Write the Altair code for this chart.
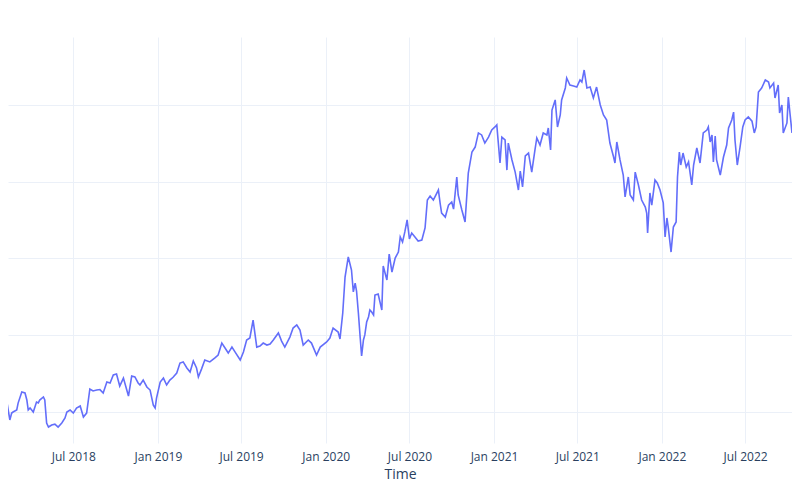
import altair as alt
import pandas as pd

# Days since 2018-01-01 of each sampled observation
days = [
    22, 28, 32, 37, 43, 47, 50, 58, 61, 69,
    76, 80, 83, 87, 94, 101, 105, 108, 116, 119,
    123, 127, 134, 141, 148, 156, 163, 167, 174, 181,
    188, 196, 203, 210, 217, 224, 232, 239, 246, 254,
    261, 268, 275, 282, 290, 301, 308, 315, 322, 326,
    333, 341, 348, 355, 359, 362, 370, 377, 384, 391,
    398, 406, 413, 420, 428, 435, 442, 449, 453, 460,
    467, 478, 489, 496, 504, 511, 518, 526, 533, 544,
    551, 558, 565, 572, 580, 587, 594, 602, 609, 616,
    627, 634, 641, 652, 659, 667, 674, 681, 692, 699,
    710, 718, 732, 739, 746, 757, 761, 767, 772, 779,
    786, 790, 794, 797, 801, 805, 808, 812, 815, 819,
    823, 826, 830, 834, 837, 844, 852, 855, 863, 868,
    874, 881, 888, 892, 897, 902, 907, 912, 917, 924,
    931, 939, 946, 951, 957, 964, 975, 979, 982, 990,
    997, 1004, 1008, 1015, 1018, 1026, 1033, 1040, 1048, 1055,
    1062, 1069, 1076, 1084, 1091, 1098, 1102, 1109, 1113, 1120,
    1124, 1127, 1135, 1142, 1149, 1153, 1158, 1164, 1171, 1178,
    1185, 1189, 1196, 1203, 1211, 1214, 1219, 1222, 1229, 1234,
    1240, 1243, 1251, 1254, 1261, 1269, 1276, 1283, 1287, 1292,
    1298, 1305, 1312, 1319, 1327, 1334, 1341, 1348, 1356, 1359,
    1363, 1370, 1377, 1381, 1388, 1392, 1399, 1403, 1410, 1417,
    1425, 1428, 1430, 1435, 1439, 1446, 1451, 1457, 1464, 1468,
    1472, 1475, 1481, 1486, 1492, 1495, 1499, 1502, 1507, 1514,
    1519, 1526, 1530, 1537, 1544, 1551, 1559, 1562, 1566, 1570,
    1573, 1577, 1580, 1588, 1595, 1602, 1606, 1613, 1617, 1620,
    1625, 1631, 1637, 1642, 1649, 1657, 1662, 1666, 1671, 1678,
    1686, 1693, 1696, 1704, 1707, 1714, 1717, 1722, 1725, 1733,
    1736, 1740, 1744, 1747, 1755, 1758, 1762,
]

# Series value at each observation
price = [
    62.4, 63.0, 61.1, 55.8, 44.8, 49.3, 50.0, 51.3, 55.8, 63.0,
    62.4, 57.8, 51.3, 52.6, 50.0, 56.5, 55.9, 57.8, 59.8, 57.8,
    42.8, 40.2, 41.5, 42.1, 40.2, 42.8, 46.1, 50.0, 51.3, 49.3,
    52.6, 53.9, 46.7, 49.3, 65.0, 63.7, 64.3, 64.6, 62.4, 69.5,
    68.9, 74.1, 74.7, 66.9, 72.1, 60.4, 73.4, 72.8, 68.9, 67.6,
    70.8, 66.3, 64.3, 54.5, 52.6, 59.1, 69.5, 72.1, 67.6, 70.8,
    72.6, 75.4, 81.9, 82.6, 78.7, 76.0, 83.2, 78.7, 72.8, 78.1,
    83.9, 82.6, 85.2, 87.1, 94.9, 91.7, 88.4, 92.3, 89.0, 83.9,
    89.1, 96.9, 98.2, 109.9, 92.3, 93.0, 94.9, 93.6, 94.3, 96.9,
    101.5, 96.2, 92.3, 98.8, 104.7, 106.7, 103.4, 93.6, 96.9, 94.9,
    87.1, 92.3, 95.6, 98.2, 104.7, 102.1, 97.6, 114.5, 137.9, 151.0,
    142.5, 128.2, 134.0, 128.8, 114.5, 98.2, 86.5, 96.9, 100.2, 108.6,
    111.9, 116.4, 115.1, 113.2, 126.2, 126.9, 116.4, 145.1, 136.0, 152.9,
    141.2, 150.3, 154.2, 164.0, 160.7, 167.3, 175.1, 162.7, 166.6, 164.0,
    161.4, 162.0, 169.9, 188.1, 190.7, 188.1, 194.6, 185.5, 179.6, 177.0,
    184.8, 186.8, 182.2, 203.1, 191.4, 181.6, 173.8, 205.7, 219.4, 222.6,
    231.8, 230.5, 225.2, 229.1, 233.7, 235.7, 237.0, 212.2, 229.1, 227.2,
    207.6, 225.2, 214.2, 206.3, 194.6, 207.0, 196.6, 216.8, 218.7, 206.3,
    220.7, 228.5, 223.9, 231.8, 230.5, 235.0, 220.7, 246.7, 253.3, 235.7,
    243.5, 253.3, 261.1, 267.6, 263.0, 262.4, 261.7, 266.3, 265.0, 272.8,
    261.1, 261.7, 254.6, 261.7, 250.0, 243.5, 240.2, 225.2, 216.1, 212.2,
    225.9, 214.2, 204.4, 190.1, 203.1, 191.4, 188.1, 206.3, 197.9, 188.1,
    183.5, 179.6, 166.6, 192.7, 184.8, 201.1, 199.2, 194.6, 186.2, 164.0,
    176.4, 169.9, 154.2, 170.5, 173.8, 203.1, 219.4, 210.9, 218.7, 209.6,
    212.9, 197.9, 210.9, 222.0, 212.2, 231.8, 233.7, 235.7, 225.9, 230.5,
    212.9, 229.8, 214.2, 204.4, 216.1, 223.9, 235.0, 240.2, 245.4, 227.2,
    210.9, 222.6, 235.7, 240.2, 242.2, 239.5, 231.8, 235.7, 258.5, 261.1,
    266.3, 265.0, 261.1, 264.3, 254.6, 263.0, 244.8, 250.0, 231.8, 238.3,
    255.2, 243.5, 231.8, 240.2, 246.7, 253.3, 278.0,
]

# Half-yearly tick marks (year, month)
tick_months = [(2018, 7), (2019, 1), (2019, 7), (2020, 1), (2020, 7),
               (2021, 1), (2021, 7), (2022, 1), (2022, 7)]
y_ticks = [50, 100, 150, 200, 250]

start = pd.Timestamp("2018-01-01")
df = pd.DataFrame({
    "Time": start + pd.to_timedelta(days, unit="D"),
    "value": price,
})

x_axis = alt.Axis(
    values=[alt.DateTime(year=y, month=m, date=1) for y, m in tick_months],
    format="%b %Y",
    title="Time",
    grid=True,
    gridColor="#EBF0F8",
    gridWidth=1,
    domain=False,
    ticks=False,
    labelColor="#2a3f5f",
    labelFont="Open Sans",
    labelFontSize=12,
    labelPadding=8,
    labelOverlap=False,
    labelFlush=False,
    titleColor="#2a3f5f",
    titleFont="Open Sans",
    titleFontSize=14,
    titleFontWeight="normal",
    titlePadding=5,
    titleX=392,
)

y_axis = alt.Axis(
    values=y_ticks,
    labels=False,
    ticks=False,
    domain=False,
    title=None,
    grid=True,
    gridColor="#EBF0F8",
    gridWidth=1,
)

chart = (
    alt.Chart(df)
    .mark_line(color="#636efa", strokeWidth=1.6, clip=True)
    .encode(
        x=alt.X(
            "Time:T",
            scale=alt.Scale(domain=[alt.DateTime(year=2018, month=2, date=9),
                                    alt.DateTime(year=2022, month=10, date=11)]),
            axis=x_axis,
        ),
        y=alt.Y(
            "value:Q",
            scale=alt.Scale(domain=[29.8, 294.3], nice=False, zero=False),
            axis=y_axis,
        ),
    )
    .properties(
        width=784,
        height=406,
        autosize=alt.AutoSizeParams(type="none"),
        padding={"left": 0, "top": 29, "right": 0, "bottom": 44},
        background="white",
    )
    .configure_view(stroke=None)
)

chart.save("out.html", embed_options={"renderer": "svg", "actions": False})
